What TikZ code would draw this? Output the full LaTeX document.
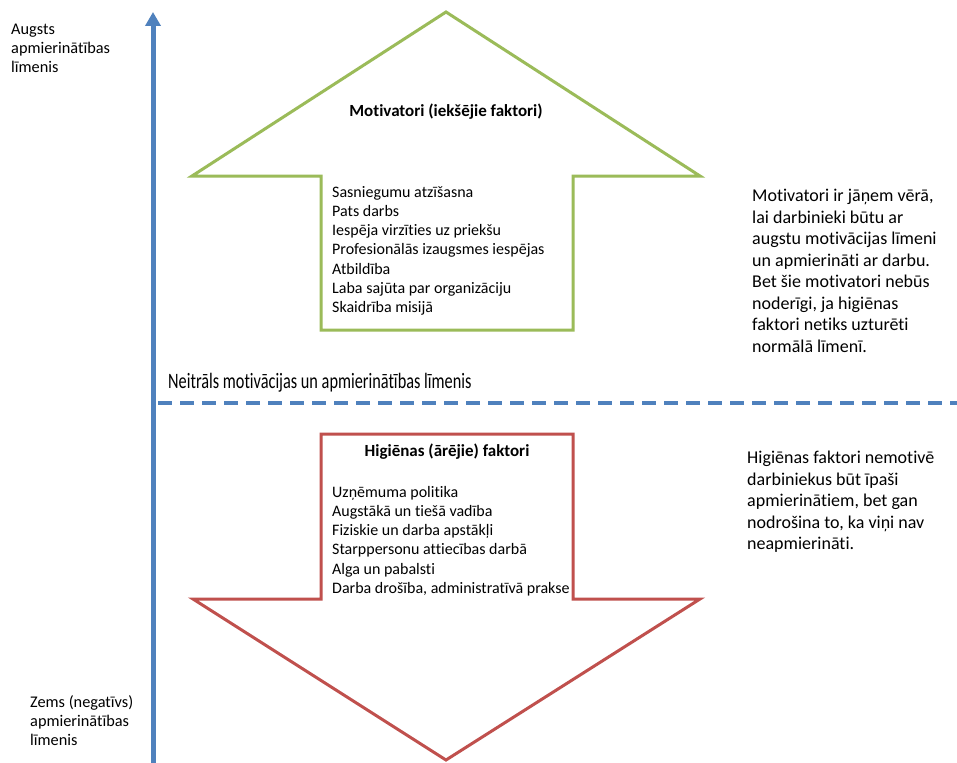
\documentclass[tikz,border=0pt]{standalone}
\usepackage{fontspec}
\setmainfont{Carlito}[Ligatures={NoCommon}]
\usetikzlibrary{arrows.meta}
\definecolor{axisblue}{HTML}{4F81BD}
\definecolor{motgreen}{HTML}{9BBB59}
\definecolor{hygred}{HTML}{C0504D}
\tikzset{
  bigarrow/.style={line width=3pt, line join=miter},
  listtext/.style={anchor=north west, inner sep=0pt, align=left, font=\fontsize{16}{19.2}\selectfont},
  titletext/.style={inner sep=0pt, font=\fontsize{17}{20}\selectfont\bfseries},
  sidetext/.style={anchor=north west, inner sep=0pt, align=left, font=\fontsize{18}{21.5}\selectfont},
  axislabel/.style={anchor=north west, inner sep=0pt, align=left, font=\fontsize{16.3}{19}\selectfont},
}
\begin{document}
\begin{tikzpicture}[x=1pt,y=-1pt]
\useasboundingbox (0,0) rectangle (957,762);
\fill[white] (0,0) rectangle (957,762);

% vertical satisfaction axis
\coordinate (axisbottom) at (153,765);
\coordinate (axistop) at (153,12);
\draw[axisblue, line width=5pt, -{Triangle[width=15pt,length=14pt]}] (axisbottom) -- (axistop);

% neutral level
\coordinate (neutralL) at (158,403);
\coordinate (neutralR) at (957,403);
\draw[axisblue, line width=3.5pt, dash pattern=on 14pt off 8pt] (neutralL) -- (neutralR);
\node[anchor=west, inner sep=0pt, font=\fontsize{22}{24}\selectfont] (neutral) at (168,383)
  {\scalebox{0.74}[1]{Neitrāls motivācijas un apmierinātības līmenis}};

% motivators: upward block arrow
\draw[motgreen, bigarrow] (446,12) -- (700,176) -- (573,176) -- (573,330)
  -- (321,330) -- (321,176) -- (192,176) -- cycle;
\node[titletext] (mottitle) at (446,112) {Motivatori (iekšējie faktori)};
\node[listtext] (motlist) at (332,186) {Sasniegumu atzīšasna\\
Pats darbs\\
Iespēja virzīties uz priekšu\\
Profesionālās izaugsmes iespējas\\
Atbildība\\
Laba sajūta par organizāciju\\
Skaidrība misijā};

% hygiene factors: downward block arrow
\draw[hygred, bigarrow] (321,434) -- (573,434) -- (573,599) -- (700,599)
  -- (446,760) -- (193,599) -- (321,599) -- cycle;
\node[titletext] (hygtitle) at (447,452) {Higiēnas (ārējie) faktori};
\node[listtext] (hyglist) at (332,486) {Uzņēmuma politika\\
Augstākā un tiešā vadība\\
Fiziskie un darba apstākļi\\
Starppersonu attiecības darbā\\
Alga un pabalsti\\
Darba drošība, administratīvā prakse};

% explanations on the right
\node[sidetext] (motnote) at (752,189) {Motivatori ir jāņem vērā,\\
lai darbinieki būtu ar\\
augstu motivācijas līmeni\\
un apmierināti ar darbu.\\
Bet šie motivatori nebūs\\
noderīgi, ja higiēnas\\
faktori netiks uzturēti\\
normālā līmenī.};
\node[sidetext] (hygnote) at (747,451) {Higiēnas faktori nemotivē\\
darbiniekus būt īpaši\\
apmierinātiem, bet gan\\
nodrošina to, ka viņi nav\\
neapmierināti.};

% axis end labels
\node[axislabel] (high) at (11,24) {Augsts\\apmierinātības\\līmenis};
\node[axislabel] (low) at (30,695) {Zems (negatīvs)\\apmierinātības\\līmenis};
\end{tikzpicture}
\end{document}
